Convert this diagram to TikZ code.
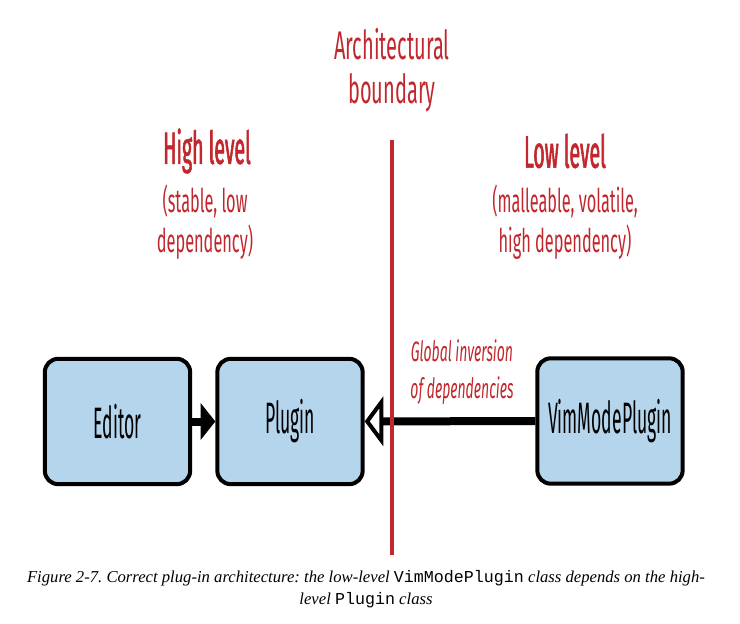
\documentclass[tikz,border=0pt]{standalone}
\usepackage{fontspec}
\setmainfont{Liberation Serif}
\setmonofont{Liberation Mono}
\newfontfamily\diafont[FakeStretch=0.5]{Fira Sans}
\newfontfamily\boxfont[FakeStretch=0.4]{Fira Sans}
\newfontfamily\headfont[FakeStretch=0.43, FakeBold=1.2]{Fira Sans}
\usetikzlibrary{arrows.meta}
\definecolor{boundred}{RGB}{193,39,45}
\definecolor{boxblue}{RGB}{180,213,235}
\tikzset{
  modulebox/.style={draw=black, line width=3pt, fill=boxblue,
    rounded corners=10pt, minimum width=109pt, minimum height=94pt,
    inner sep=0pt, font=\boxfont\fontsize{33}{36}\selectfont},
  sidehead/.style={text=boundred, align=center,
    font=\headfont\fontsize{34}{36}\selectfont},
  sidenote/.style={text=boundred, align=center,
    font=\diafont\fontsize{24.5}{30}\selectfont},
  depend/.style={line width=6pt},
}

\begin{document}
\frenchspacing
\begin{tikzpicture}[x=0.75pt,y=-0.75pt]
   %
   \useasboundingbox (0,0) rectangle (740,624);
   %
   \node[text=boundred, align=center,
         font=\diafont\fontsize{30}{33}\selectfont]
        (boundary) at (392,70) {Architectural\\boundary};
   %
   \node[sidehead] (high) at (207,151) {High level};
   \node[sidenote] (highnote) at (205,222) {(stable, low\\dependency)};
   %
   \node[sidehead] (low) at (565,151) {Low level};
   \node[sidenote] (lownote) at (565,222)
        {(malleable, volatile,\\high dependency)};
   %
   \node[modulebox] (editor) at (117.5,421.5) {Editor};
   \node[modulebox] (plugin) at (290,421.5) {Plugin};
   \node[modulebox] (vim) at (610,421) {VimModePlugin};
   %
   \draw[depend, -{Triangle[length=11pt, width=27pt]}]
        (editor) -- (plugin);
   \draw[depend, -{Triangle[open, fill=white, line width=3pt,
                   length=14pt, width=37pt]}]
        (vim) -- (plugin);
   %
   \coordinate (linetop) at (392,140);
   \coordinate (linebot) at (392,555);
   \draw[boundred, line width=3.5pt] (linetop) -- (linebot);
   %
   \node[text=boundred, align=center,
         font=\diafont\itshape\fontsize{21}{28}\selectfont]
        (inversion) at (462,372) {Global inversion\\of dependencies};
   %
   \node[align=center, font=\itshape\fontsize{12.5}{16.5}\selectfont]
        (caption) at (366,589)
        {Figure 2-7. Correct plug-in architecture: the low-level
         \texttt{\upshape VimModePlugin} class depends on the high-\\
         level \texttt{\upshape Plugin} class};
   %
\end{tikzpicture}
\end{document}
